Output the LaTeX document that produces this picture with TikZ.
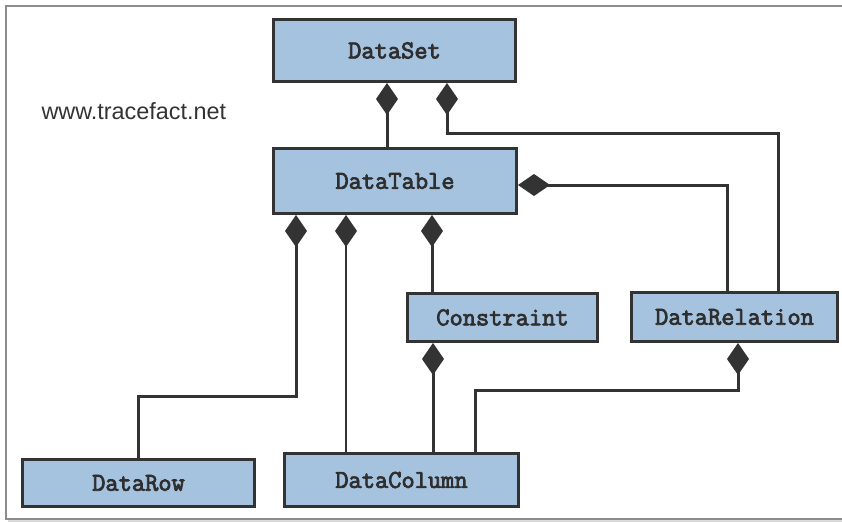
\documentclass[tikz,border=0pt]{standalone}
\usepackage{fontspec}
\usetikzlibrary{arrows.meta}
\newfontfamily\classfont{Latin Modern Mono}[BoldFont=Latin Modern Mono, BoldFeatures={FakeBold=3}]
\newfontfamily\webfont{Liberation Sans}
\definecolor{boxfill}{HTML}{A5C3DF}
\definecolor{ink}{HTML}{333333}
\definecolor{framegray}{HTML}{8C8C8C}
\tikzset{
  classbox/.style={draw=ink, fill=boxfill, line width=3pt, inner sep=0pt,
    font=\classfont\bfseries\fontsize{25.7}{27}\selectfont, text=ink!90!black},
  comp/.style={draw=ink, line width=3pt, line join=miter,
    {Diamond[length=32pt,width=22pt,fill=ink]}-},
  compthin/.style={comp, line width=1.4pt},
}
\begin{document}
\begin{tikzpicture}[x=1pt, y=-1pt]
  \useasboundingbox (0,0) rectangle (842,522);
  % outer frame
  \draw[line width=2pt, color=black!15] (8,521) -- (842,521);
  \draw[line width=2pt, color=framegray] (842,6) -- (6,6) -- (6,519) -- (842,519);

  \node[anchor=base west, font=\webfont\fontsize{23.4}{26}\selectfont, text=ink]
    (site) at (38,119) {www.tracefact.net};

  % classes
  \node[classbox, minimum width=242pt, minimum height=62pt] (DataSet) at (394.5,50.5) {DataSet};
  \node[classbox, minimum width=243pt, minimum height=65pt] (DataTable) at (395,181) {DataTable};
  \node[classbox, minimum width=190pt, minimum height=48pt] (Constraint) at (502.5,317.5) {Constraint};
  \node[classbox, minimum width=206pt, minimum height=49pt] (DataRelation) at (734.5,317) {DataRelation};
  \node[classbox, minimum width=232pt, minimum height=47pt] (DataRow) at (138.5,483) {DataRow};
  \node[classbox, minimum width=234pt, minimum height=53pt] (DataColumn) at (401.5,480) {DataColumn};

  % composition links
  \draw[comp] ([xshift=-7.5pt]DataSet.south) -- ([xshift=-7.5pt]DataSet.south |- DataTable.north);
  \draw[comp] ([xshift=52.5pt]DataSet.south) -- ++(0,50.5) -| ([xshift=43.5pt]DataRelation.north);
  \draw[comp] ([yshift=-4pt]DataTable.east) -| ([xshift=-7.5pt]DataRelation.north);
  \draw[comp] ([xshift=-99pt]DataTable.south) -- ++(0,181.5) -| (DataRow.north);
  \draw[compthin] ([xshift=-49pt]DataTable.south) -- ([xshift=-49pt]DataTable.south |- DataColumn.north);
  \draw[comp] ([xshift=37pt]DataTable.south) -- ([xshift=37pt]DataTable.south |- Constraint.north);
  \draw[comp] ([xshift=-69.5pt]Constraint.south) -- ([xshift=-69.5pt]Constraint.south |- DataColumn.north);
  \draw[comp] ([xshift=3.5pt]DataRelation.south) -- ++(0,47.5) -| ([xshift=73.5pt]DataColumn.north);
\end{tikzpicture}
\end{document}
